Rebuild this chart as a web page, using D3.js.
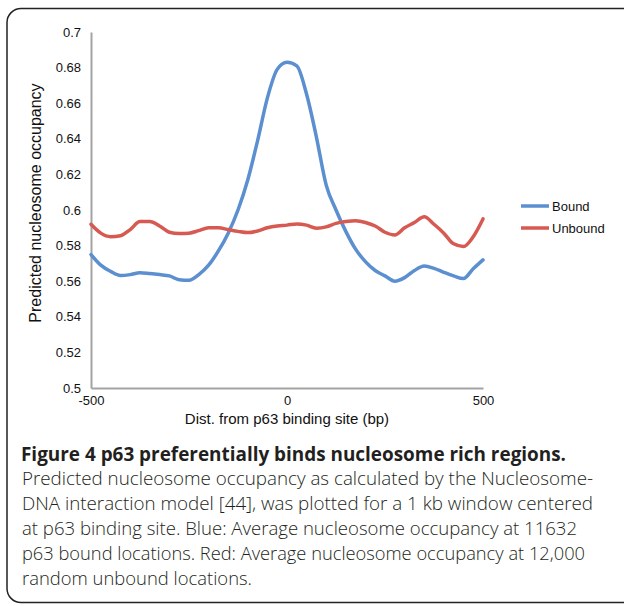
<!DOCTYPE html>
<html>
<head>
<meta charset="utf-8">
<script src="https://cdn.jsdelivr.net/npm/d3@7"></script>
<style>
  body { margin: 0; background: #fff; }
</style>
</head>
<body>
<div class="chart"></div>
<script>
var svgWidth = 624;
var svgHeight = 606;

// distance from p63 binding site (bp)
var positions = [-500, -475, -450, -425, -400, -375, -350, -325, -300, -275, -250,
  -225, -200, -175, -150, -125, -100, -75, -50, -25, 0,
  25, 50, 75, 100, 125, 150, 175, 200, 225, 250,
  275, 300, 325, 350, 375, 400, 425, 450, 475, 500];

var bound = [0.575, 0.569, 0.5655, 0.5632, 0.5637, 0.5648, 0.5643, 0.5637, 0.563, 0.5608, 0.5605,
  0.5637, 0.569, 0.577, 0.587, 0.600, 0.617, 0.639, 0.663, 0.679, 0.683,
  0.681, 0.665, 0.641, 0.614, 0.600, 0.588, 0.578, 0.571, 0.566, 0.563,
  0.560, 0.562, 0.566, 0.5685, 0.5672, 0.565, 0.563, 0.5615, 0.567, 0.572];

var unbound = [0.592, 0.587, 0.585, 0.5855, 0.589, 0.5935, 0.5935, 0.591, 0.5875, 0.5868, 0.587,
  0.5884, 0.590, 0.590, 0.589, 0.588, 0.5873, 0.5882, 0.590, 0.591, 0.5915,
  0.5922, 0.5915, 0.5898, 0.5905, 0.5925, 0.5935, 0.594, 0.593, 0.591, 0.5875,
  0.586, 0.590, 0.593, 0.5962, 0.592, 0.587, 0.581, 0.5795, 0.585, 0.595];

var seriesNames = ["Bound", "Unbound"];
var seriesColors = ["#5b8fd0", "#d65a52"];

var xTicks = [-500, 0, 500];
var yTicks = [0.5, 0.52, 0.54, 0.56, 0.58, 0.6, 0.62, 0.64, 0.66, 0.68, 0.7];

var captionTitle = "Figure 4 p63 preferentially binds nucleosome rich regions.";
var captionLines = [
  "Predicted nucleosome occupancy as calculated by the Nucleosome-",
  "DNA interaction model [44], was plotted for a 1 kb window centered",
  "at p63 binding site. Blue: Average nucleosome occupancy at 11632",
  "p63 bound locations. Red: Average nucleosome occupancy at 12,000",
  "random unbound locations."
];
var captionWidths = [571, 571, 555, 563, 230];

var margin = { top: 32, left: 91 };
var width = 392;
var height = 356;

var labelFont = "Liberation Sans, Arial, sans-serif";
var captionFont = "Open Sans, sans-serif";

var svg = d3.select(".chart")
  .append("svg")
  .attr("width", svgWidth)
  .attr("height", svgHeight);

// frame around the figure
svg.append("rect")
  .attr("x", 7)
  .attr("y", 8.5)
  .attr("width", 650)
  .attr("height", 594)
  .attr("rx", 14)
  .attr("fill", "none")
  .attr("stroke", "#222")
  .attr("stroke-width", 1.5);

var chartGroup = svg.append("g")
  .attr("transform", `translate(${margin.left}, ${margin.top})`);

var xLinearScale = d3.scaleLinear()
  .domain([-500, 500])
  .range([0, width]);

var yLinearScale = d3.scaleLinear()
  .domain([0.5, 0.7])
  .range([height, 0]);

var bottomAxis = d3.axisBottom(xLinearScale)
  .tickValues(xTicks)
  .tickSize(0)
  .tickPadding(8)
  .tickFormat(d => d);

var leftAxis = d3.axisLeft(yLinearScale)
  .tickValues(yTicks)
  .tickSize(0)
  .tickPadding(10)
  .tickFormat(d => String(+d.toFixed(2)));

var xAxisG = chartGroup.append("g")
  .attr("transform", `translate(0, ${height})`)
  .call(bottomAxis);

var yAxisG = chartGroup.append("g")
  .call(leftAxis);

[xAxisG, yAxisG].forEach(function (g) {
  g.attr("font-family", labelFont).attr("font-size", 13);
  g.select(".domain").attr("stroke", "#a3a3a3").attr("stroke-width", 2);
  g.selectAll("text").attr("fill", "#111");
});

// lines
var series = [bound, unbound];
var line = d3.line()
  .x((d, i) => xLinearScale(positions[i]))
  .y(d => yLinearScale(d))
  .curve(d3.curveMonotoneX);

chartGroup.selectAll(".series")
  .data(series)
  .enter()
  .append("path")
  .attr("class", "series")
  .attr("d", d => line(d))
  .attr("fill", "none")
  .attr("stroke", (d, i) => seriesColors[i])
  .attr("stroke-width", 3.5)
  .attr("stroke-linejoin", "round")
  .attr("stroke-linecap", "round");

// axis labels
chartGroup.append("text")
  .attr("transform", `translate(${-56}, ${171}) rotate(-90)`)
  .attr("text-anchor", "middle")
  .attr("dy", "0.35em")
  .attr("font-family", labelFont)
  .attr("font-size", "16px")
  .attr("fill", "#111")
  .text("Predicted nucleosome occupancy");

chartGroup.append("text")
  .attr("x", width / 2)
  .attr("y", height + 31)
  .attr("text-anchor", "middle")
  .attr("dy", "0.35em")
  .attr("font-family", labelFont)
  .attr("font-size", "15px")
  .attr("fill", "#111")
  .text("Dist. from p63 binding site (bp)");

// legend
var legend = svg.selectAll(".legend")
  .data(seriesNames)
  .enter()
  .append("g")
  .attr("class", "legend")
  .attr("transform", (d, i) => `translate(521, ${206 + i * 22})`);

legend.append("line")
  .attr("x1", 0)
  .attr("x2", 28)
  .attr("stroke", (d, i) => seriesColors[i])
  .attr("stroke-width", 3.5);

legend.append("text")
  .attr("x", 31)
  .attr("dy", "0.35em")
  .attr("font-family", labelFont)
  .attr("font-size", "13px")
  .attr("fill", "#111")
  .text(d => d);

// caption
svg.append("text")
  .attr("x", 21)
  .attr("y", 454)
  .attr("dy", "0.35em")
  .attr("font-family", captionFont)
  .attr("font-weight", "bold")
  .attr("font-size", "19px")
  .attr("fill", "#231f20")
  .attr("textLength", 545)
  .attr("lengthAdjust", "spacingAndGlyphs")
  .text(captionTitle);

svg.selectAll(".caption")
  .data(captionLines)
  .enter()
  .append("text")
  .attr("class", "caption")
  .attr("x", 22)
  .attr("y", (d, i) => 478 + i * 25)
  .attr("dy", "0.35em")
  .attr("font-family", captionFont)
  .attr("font-weight", 300)
  .attr("font-size", "19px")
  .attr("fill", "#231f20")
  .attr("textLength", (d, i) => captionWidths[i])
  .attr("lengthAdjust", "spacingAndGlyphs")
  .text(d => d);
</script>
</body>
</html>
